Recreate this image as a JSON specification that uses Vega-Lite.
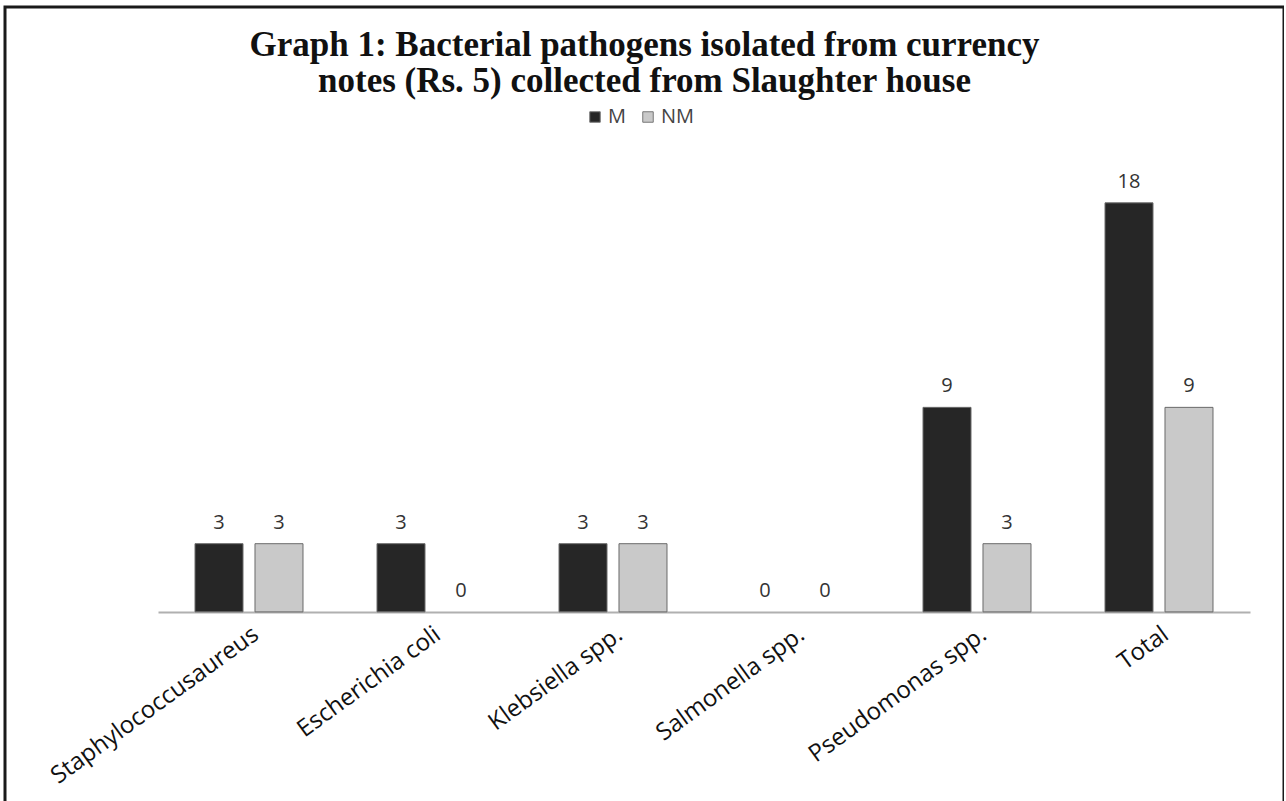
{
  "$schema": "https://vega.github.io/schema/vega-lite/v6.json",
  "width": 1279,
  "height": 798,
  "autosize": {"type": "none"},
  "padding": {"left": 5, "top": 7, "right": 0, "bottom": 0},
  "background": "white",
  "config": {
    "view": {"stroke": "#1a1a1a", "strokeWidth": 3}
  },
  "title": {
    "text": ["Graph 1: Bacterial pathogens isolated from currency", "notes (Rs. 5) collected from Slaughter house"],
    "font": "Liberation Serif",
    "fontSize": 35,
    "fontWeight": "bold",
    "color": "#111111",
    "anchor": "middle",
    "lineHeight": 36,
    "offset": -92
  },
  "data": {
    "values": [
      {"organism": "Staphylococcusaureus", "group": "M", "count": 3},
      {"organism": "Staphylococcusaureus", "group": "NM", "count": 3},
      {"organism": "Escherichia coli", "group": "M", "count": 3},
      {"organism": "Escherichia coli", "group": "NM", "count": 0},
      {"organism": "Klebsiella spp.", "group": "M", "count": 3},
      {"organism": "Klebsiella spp.", "group": "NM", "count": 3},
      {"organism": "Salmonella spp.", "group": "M", "count": 0},
      {"organism": "Salmonella spp.", "group": "NM", "count": 0},
      {"organism": "Pseudomonas spp.", "group": "M", "count": 9},
      {"organism": "Pseudomonas spp.", "group": "NM", "count": 3},
      {"organism": "Total", "group": "M", "count": 18},
      {"organism": "Total", "group": "NM", "count": 9}
    ]
  },
  "encoding": {
    "x": {
      "field": "organism",
      "type": "nominal",
      "sort": ["Staphylococcusaureus", "Escherichia coli", "Klebsiella spp.", "Salmonella spp.", "Pseudomonas spp.", "Total"],
      "scale": {"range": [153, 1245], "paddingInner": 0.4066, "paddingOuter": 0.2033},
      "axis": {
        "title": null,
        "orient": "bottom",
        "offset": -193,
        "ticks": false,
        "domainColor": "#b0b0b0",
        "domainWidth": 2,
        "labelAngle": -36,
        "labelFont": "Open Sans",
        "labelFontSize": 24,
        "labelColor": "#111111",
        "labelPadding": 10,
        "labelLimit": 400
      }
    },
    "xOffset": {
      "field": "group",
      "type": "nominal",
      "sort": ["M", "NM"],
      "scale": {"paddingInner": 0.2, "paddingOuter": 0}
    },
    "y": {
      "field": "count",
      "type": "quantitative",
      "scale": {"domain": [-8.5, 26.62], "nice": false},
      "axis": null
    }
  },
  "layer": [
    {
      "mark": {"type": "bar", "stroke": "#6a6a6a", "strokeWidth": 1},
      "encoding": {
        "strokeOpacity": {"condition": {"test": "datum.count > 0", "value": 1}, "value": 0},
        "color": {
          "field": "group",
          "type": "nominal",
          "scale": {"domain": ["M", "NM"], "range": ["#262626", "#c9c9c9"]},
          "legend": {
            "title": null,
            "orient": "none",
            "legendX": 580,
            "legendY": 100,
            "direction": "horizontal",
            "padding": 0,
            "symbolType": "square",
            "symbolSize": 110,
            "symbolStrokeColor": "#777777",
            "symbolStrokeWidth": 1,
            "labelFont": "Open Sans",
            "labelFontSize": 20,
            "labelColor": "#444444",
            "labelOffset": 3,
            "columnPadding": 12
          }
        }
      }
    },
    {
      "mark": {"type": "text", "dy": -21, "baseline": "middle", "font": "Open Sans", "fontSize": 20, "color": "#333333"},
      "encoding": {"text": {"field": "count", "type": "quantitative"}}
    }
  ]
}
